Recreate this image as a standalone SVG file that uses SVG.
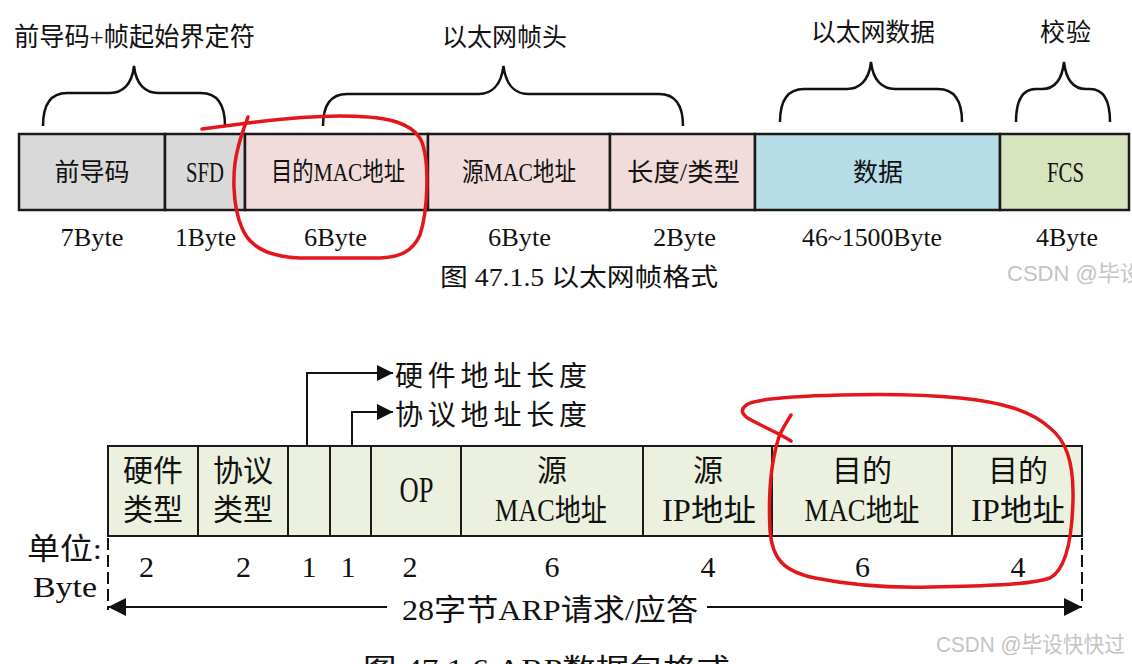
<svg xmlns="http://www.w3.org/2000/svg" width="1132" height="664" viewBox="0 0 1132 664">
<defs>
<style>
.t{font-family:'Liberation Serif','Noto Sans CJK SC',serif;fill:#111;}
.c{text-anchor:middle;}
.box{stroke:#1a1a1a;stroke-width:2.5;}
.box2{stroke:#1a1a1a;stroke-width:2;fill:#ebf1de;}
.brace{fill:none;stroke:#111;stroke-width:2.5;}
.ln{fill:none;stroke:#111;stroke-width:2;}
.dash{fill:none;stroke:#111;stroke-width:2;stroke-dasharray:12 5;}
.red{fill:none;stroke:#e3161c;stroke-width:3.5;stroke-linecap:round;stroke-linejoin:round;}
.wm{font-family:'Liberation Sans','Noto Sans CJK SC',sans-serif;fill:#c4c4c4;font-size:22px;}
</style>
<marker id="arr" viewBox="0 0 16 16" refX="16" refY="8" markerWidth="16" markerHeight="16" markerUnits="userSpaceOnUse" orient="auto">
<path d="M0,0 L16,8 L0,16 z" fill="#111"/>
</marker>
<marker id="arrL" viewBox="0 0 18 18" refX="18" refY="9" markerWidth="18" markerHeight="18" markerUnits="userSpaceOnUse" orient="auto">
<path d="M0,0 L18,9 L0,18 z" fill="#111"/>
</marker>
</defs>
<rect x="0" y="0" width="1132" height="664" fill="#ffffff"/>

<!-- Top section: group labels and braces -->
<g id="top-labels">
<text class="t c" x="134.5" y="46" font-size="26" textLength="241" lengthAdjust="spacingAndGlyphs">前导码+帧起始界定符</text>
<text class="t c" x="504.5" y="46" font-size="25" textLength="125">以太网帧头</text>
<text class="t c" x="873" y="41" font-size="25" textLength="124">以太网数据</text>
<text class="t c" x="1065.5" y="41" font-size="25" textLength="51">校验</text>
</g>
<g id="braces">
<path class="brace" d="M43,126 C43,106 50,93 67,93 L110,93 C122,93 132,85 134,66 C136,85 146,93 158,93 L201,93 C218,93 225,106 225,126"/>
<path class="brace" d="M323,126 C323,106 330,94 347,94 L479,94 C491,94 501,86 503.5,66 C506,86 516,94 528,94 L659,94 C676,94 683,106 683,126"/>
<path class="brace" d="M780,122 C780,102 787,89 804,89 L847,89 C859,89 869,81 871,62 C873,81 883,89 895,89 L938,89 C955,89 962,102 962,122"/>
<path class="brace" d="M1016,122 C1016,102 1022,89 1036,89 L1042,89 C1054,89 1062,80 1064,62 C1066,80 1074,89 1086,89 L1090,89 C1104,89 1110,102 1110,122"/>
</g>

<!-- Top frame fields -->
<g id="f-preamble">
<rect class="box" x="19" y="134" width="146" height="76" fill="#d9d9d9"/>
<text class="t c" x="92" y="181" font-size="25">前导码</text>
</g>
<g id="f-sfd">
<rect class="box" x="165" y="134" width="80" height="76" fill="#d9d9d9"/>
<text class="t c" x="205" y="182" font-size="30" textLength="38" lengthAdjust="spacingAndGlyphs">SFD</text>
</g>
<g id="f-dmac">
<rect class="box" x="245" y="134" width="183" height="76" fill="#f2dcdb"/>
<text class="t c" x="338" y="181" font-size="26" textLength="134" lengthAdjust="spacingAndGlyphs">目的MAC地址</text>
</g>
<g id="f-smac">
<rect class="box" x="428" y="134" width="182" height="76" fill="#f2dcdb"/>
<text class="t c" x="519" y="181" font-size="26" textLength="114" lengthAdjust="spacingAndGlyphs">源MAC地址</text>
</g>
<g id="f-type">
<rect class="box" x="610" y="134" width="145" height="76" fill="#f2dcdb"/>
<text class="t c" x="683.5" y="181" font-size="25" textLength="113" lengthAdjust="spacingAndGlyphs">长度/类型</text>
</g>
<g id="f-data">
<rect class="box" x="755" y="134" width="245" height="76" fill="#b7dde8"/>
<text class="t c" x="878" y="181" font-size="25">数据</text>
</g>
<g id="f-fcs">
<rect class="box" x="1000" y="134" width="129" height="76" fill="#d7e4bd"/>
<text class="t c" x="1065.5" y="182" font-size="30" textLength="37" lengthAdjust="spacingAndGlyphs">FCS</text>
</g>

<g id="top-sizes">
<text class="t c" x="92" y="246" font-size="26" textLength="63" lengthAdjust="spacingAndGlyphs">7Byte</text>
<text class="t c" x="205.5" y="246" font-size="26" textLength="61" lengthAdjust="spacingAndGlyphs">1Byte</text>
<text class="t c" x="335.5" y="246" font-size="26" textLength="63" lengthAdjust="spacingAndGlyphs">6Byte</text>
<text class="t c" x="519.5" y="246" font-size="26" textLength="63" lengthAdjust="spacingAndGlyphs">6Byte</text>
<text class="t c" x="684.5" y="246" font-size="26" textLength="63" lengthAdjust="spacingAndGlyphs">2Byte</text>
<text class="t c" x="872" y="246" font-size="26" textLength="140" lengthAdjust="spacingAndGlyphs">46~1500Byte</text>
<text class="t c" x="1067" y="246" font-size="26" textLength="62" lengthAdjust="spacingAndGlyphs">4Byte</text>
</g>
<text id="cap1" class="t c" x="579" y="286" font-size="25" textLength="278" lengthAdjust="spacingAndGlyphs">图 47.1.5 以太网帧格式</text>
<text id="wm1" class="wm" x="1007" y="281">CSDN @毕设快快过</text>

<!-- Bottom section: ARP fields -->
<g id="a-htype">
<rect class="box2" x="108" y="446" width="90" height="90"/>
<text class="t c" x="153" y="481" font-size="30">硬件</text>
<text class="t c" x="153" y="520" font-size="30">类型</text>
</g>
<g id="a-ptype">
<rect class="box2" x="198" y="446" width="90" height="90"/>
<text class="t c" x="243" y="481" font-size="30">协议</text>
<text class="t c" x="243" y="520" font-size="30">类型</text>
</g>
<g id="a-hlen">
<rect class="box2" x="288" y="446" width="42" height="90"/>
</g>
<g id="a-plen">
<rect class="box2" x="330" y="446" width="41" height="90"/>
</g>
<g id="a-op">
<rect class="box2" x="371" y="446" width="90" height="90"/>
<text class="t c" x="416.5" y="502" font-size="35" textLength="34" lengthAdjust="spacingAndGlyphs">OP</text>
</g>
<g id="a-smac">
<rect class="box2" x="461" y="446" width="182" height="90"/>
<text class="t c" x="552" y="481" font-size="30">源</text>
<text class="t c" x="551" y="521" font-size="31" textLength="112" lengthAdjust="spacingAndGlyphs">MAC地址</text>
</g>
<g id="a-sip">
<rect class="box2" x="643" y="446" width="129" height="90"/>
<text class="t c" x="708" y="481" font-size="30">源</text>
<text class="t c" x="709" y="521" font-size="31" textLength="94" lengthAdjust="spacingAndGlyphs">IP地址</text>
</g>
<g id="a-dmac">
<rect class="box2" x="772" y="446" width="180" height="90"/>
<text class="t c" x="862" y="481" font-size="30">目的</text>
<text class="t c" x="862" y="521" font-size="31" textLength="115" lengthAdjust="spacingAndGlyphs">MAC地址</text>
</g>
<g id="a-dip">
<rect class="box2" x="952" y="446" width="130" height="90"/>
<text class="t c" x="1018" y="481" font-size="30">目的</text>
<text class="t c" x="1018" y="521" font-size="31" textLength="94" lengthAdjust="spacingAndGlyphs">IP地址</text>
</g>

<g id="a-annot">
<text class="t" x="395" y="386" font-size="28" textLength="192" lengthAdjust="spacing">硬件地址长度</text>
<text class="t" x="395" y="425" font-size="28" textLength="192" lengthAdjust="spacing">协议地址长度</text>
</g>

<g id="a-sizes">
<text class="t c" x="146.5" y="577" font-size="30">2</text>
<text class="t c" x="243.5" y="577" font-size="30">2</text>
<text class="t c" x="309" y="577" font-size="30">1</text>
<text class="t c" x="348" y="577" font-size="30">1</text>
<text class="t c" x="410" y="577" font-size="30">2</text>
<text class="t c" x="552" y="577" font-size="30">6</text>
<text class="t c" x="708" y="577" font-size="30">4</text>
<text class="t c" x="862.5" y="577" font-size="30">6</text>
<text class="t c" x="1018" y="577" font-size="30">4</text>
</g>
<g id="a-unit">
<text class="t" x="27" y="559" font-size="30" textLength="75" lengthAdjust="spacingAndGlyphs">单位:</text>
<text class="t" x="33" y="597" font-size="30" textLength="64" lengthAdjust="spacingAndGlyphs">Byte</text>
</g>
<text id="a-total" class="t c" x="550" y="620" font-size="30" textLength="296" lengthAdjust="spacingAndGlyphs">28字节ARP请求/应答</text>

<g id="connectors">
<path class="ln" d="M307,446 L307,373 L393,373" marker-end="url(#arr)"/>
<path class="ln" d="M352,446 L352,412 L393,412" marker-end="url(#arr)"/>
<path class="ln" d="M387,607 L108,607" marker-end="url(#arrL)"/>
<path class="ln" d="M707,607 L1082,607" marker-end="url(#arrL)"/>
<path class="dash" d="M108,538 L108,610"/>
<path class="dash" d="M1082,538 L1082,604"/>
</g>

<text id="cap2" class="t c" x="546.5" y="678" font-size="27" textLength="367" lengthAdjust="spacingAndGlyphs">图 47.1.6 ARP数据包格式</text>
<text id="wm2" class="wm" x="936" y="652" textLength="189" lengthAdjust="spacingAndGlyphs">CSDN @毕设快快过</text>

<!-- Red hand-drawn annotations -->
<g id="annotations">
<path class="red" d="M202,129 L248,123 C280,119 310,116 340,116 C380,116 410,120 421,140 C430,160 428,210 420,235 C412,252 400,257 380,258 L300,258 C270,257 250,248 242,228 C232,205 232,170 238,148 C241,135 245,125 248,117"/>
<path class="red" d="M791,415 C785,425 780,432 778,440 C772,460 768,490 770,530 C772,560 785,572 815,578 C850,585 890,588 930,587 C980,586 1030,585 1050,578 C1065,570 1072,540 1073,500 C1074,460 1065,440 1050,428 C1030,410 1000,402 960,398 C920,394 880,394 840,395 C800,396 760,398 748,404 C738,410 742,416 755,422 C770,430 782,435 791,441"/>
</g>
</svg>
